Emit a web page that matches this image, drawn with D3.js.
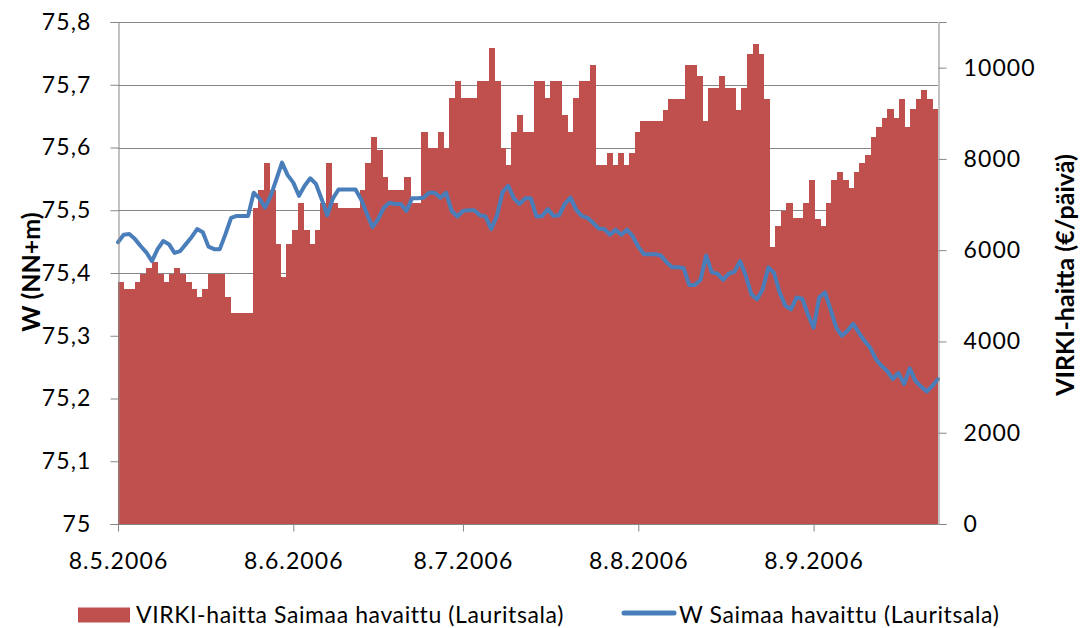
<!DOCTYPE html>
<html>
<head>
<meta charset="utf-8">
<script src="https://cdn.jsdelivr.net/npm/d3@7"></script>
<style>
  body { margin: 0; background: #fff; }
  text { font-family: Lato, 'Open Sans', sans-serif; fill: #000; }
  .axis path, .axis line { stroke: #868686; }
  .axis text { letter-spacing: 1.1px; }
  .legend text { letter-spacing: 0.6px; }
  .title { font-weight: bold; }
</style>
</head>
<body>
<div id="chart"></div>
<script>
// Daily categories 8.5.2006 - 30.9.2006
const dates = d3.timeDay.range(new Date(2006, 4, 8), new Date(2006, 9, 1))

// VIRKI-haitta (€/päivä), one value per day
const haitta = [
  5310, 5160, 5160, 5310, 5470, 5620, 5750, 5470, 5310, 5470,
  5620, 5470, 5310, 5160, 4980, 5160, 5470, 5470, 5470, 4980,
  4630, 4630, 4630, 4630, 6930, 7320, 7910, 7320, 6130, 5420,
  6130, 6440, 7030, 6440, 6130, 6440, 7030, 7910, 7030, 6930,
  6930, 6930, 6930, 7320, 7910, 8490, 8200, 7610, 7320, 7320,
  7320, 7610, 7030, 7030, 8600, 8240, 8240, 8600, 8240, 9330,
  9700, 9330, 9330, 9330, 9700, 9700, 10430, 9700, 8240, 7870,
  8600, 8970, 8600, 8600, 9700, 9700, 9330, 9700, 9700, 8970,
  8600, 9330, 9700, 9700, 10050, 7860, 7860, 8130, 7860, 8130,
  7860, 8130, 8600, 8840, 8840, 8840, 8840, 9080, 9320, 9320,
  9320, 10050, 10050, 9810, 8840, 9550, 9550, 9810, 9550, 9550,
  9080, 9550, 10290, 10520, 10290, 9320, 6080, 6540, 6850, 7030,
  6700, 6700, 7030, 7530, 6680, 6540, 7030, 7530, 7710, 7530,
  7360, 7710, 7910, 8090, 8490, 8690, 8900, 9100, 8900, 9310,
  8690, 9100, 9310, 9520, 9310, 9100
]

// W Saimaa (NN+m), one value per day
const level = [
  75.449, 75.461, 75.462, 75.454, 75.443, 75.433, 75.419, 75.438, 75.451, 75.446,
  75.432, 75.435, 75.446, 75.457, 75.470, 75.465, 75.442, 75.438, 75.438, 75.462,
  75.488, 75.491, 75.491, 75.491, 75.528, 75.519, 75.504, 75.523, 75.549, 75.576,
  75.556, 75.544, 75.523, 75.539, 75.551, 75.542, 75.518, 75.492, 75.519, 75.533,
  75.533, 75.533, 75.533, 75.517, 75.495, 75.473, 75.486, 75.504, 75.512, 75.510,
  75.510, 75.499, 75.519, 75.519, 75.520, 75.528, 75.528, 75.520, 75.528, 75.499,
  75.490, 75.499, 75.500, 75.500, 75.492, 75.490, 75.470, 75.491, 75.529, 75.539,
  75.519, 75.510, 75.519, 75.519, 75.490, 75.491, 75.502, 75.491, 75.492, 75.510,
  75.520, 75.501, 75.491, 75.488, 75.480, 75.471, 75.470, 75.461, 75.469, 75.461,
  75.469, 75.459, 75.442, 75.430, 75.430, 75.430, 75.428, 75.417, 75.409, 75.409,
  75.408, 75.381, 75.381, 75.389, 75.428, 75.401, 75.399, 75.389, 75.399, 75.402,
  75.419, 75.396, 75.366, 75.358, 75.374, 75.409, 75.400, 75.369, 75.348, 75.342,
  75.361, 75.359, 75.334, 75.313, 75.361, 75.369, 75.342, 75.313, 75.300, 75.308,
  75.319, 75.305, 75.292, 75.281, 75.263, 75.252, 75.244, 75.231, 75.241, 75.223,
  75.248, 75.228, 75.219, 75.211, 75.220, 75.231
]

// Axis ticks
const leftTicks = [75, 75.1, 75.2, 75.3, 75.4, 75.5, 75.6, 75.7, 75.8]
const rightTicks = [0, 2000, 4000, 6000, 8000, 10000]
const dateTicks = [new Date(2006, 4, 8), new Date(2006, 5, 8), new Date(2006, 6, 8), new Date(2006, 7, 8), new Date(2006, 8, 8)]
const dateLabels = ['8.5.2006', '8.6.2006', '8.7.2006', '8.8.2006', '8.9.2006']

const legendNames = ['VIRKI-haitta Saimaa havaittu (Lauritsala)', 'W Saimaa havaittu (Lauritsala)']

const width = 1085
const height = 628
const plot = { left: 118, right: 938, top: 22, bottom: 524 }

const svg = d3.select('#chart')
  .append('svg')
  .attr('width', width)
  .attr('height', height)

// Scales
const xTime = d3.scaleTime()
  .domain([dates[0], dates[dates.length - 1]])
  .range([plot.left, plot.right])

const xBand = d3.scaleBand()
  .domain(dates.map(d => +d))
  .range([plot.left, plot.right])
  .padding(0)

const yLeft = d3.scaleLinear()
  .domain([75, 75.8])
  .range([plot.bottom, plot.top])

const yRight = d3.scaleLinear()
  .domain([0, 11000])
  .range([plot.bottom, plot.top])

// Gridlines (behind bars)
svg.append('g')
  .selectAll('line')
  .data(leftTicks)
  .enter()
  .append('line')
  .attr('x1', plot.left)
  .attr('x2', plot.right)
  .attr('y1', d => Math.round(yLeft(d)) + 0.5)
  .attr('y2', d => Math.round(yLeft(d)) + 0.5)
  .attr('stroke', '#868686')
  .attr('stroke-width', 1)

// Bars
svg.append('g')
  .attr('shape-rendering', 'crispEdges')
  .selectAll('rect')
  .data(haitta)
  .enter()
  .append('rect')
  .attr('x', (d, i) => xBand(+dates[i]))
  .attr('width', (d, i) => i === haitta.length - 1 ? xBand.bandwidth() : xBand.bandwidth() + 0.6)
  .attr('y', d => yRight(d))
  .attr('height', d => plot.bottom - yRight(d))
  .attr('fill', '#C0504D')

// Line
const line = d3.line()
  .x((d, i) => xTime(dates[i]))
  .y(d => yLeft(d))

svg.append('path')
  .datum(level)
  .attr('d', line)
  .attr('fill', 'none')
  .attr('stroke', '#4A7EBB')
  .attr('stroke-width', 4)
  .attr('stroke-linejoin', 'round')
  .attr('stroke-linecap', 'round')

// Axes
const fmtLeft = d => d === 75 ? '75' : d3.format('.1f')(d).replace('.', ',')

const axisLeft = svg.append('g')
  .attr('class', 'axis')
  .attr('transform', `translate(${plot.left + 0.5}, 0)`)
  .call(d3.axisLeft(yLeft).tickValues(leftTicks).tickFormat(fmtLeft).tickSize(8).tickPadding(19))
axisLeft.selectAll('text').style('font-size', '23px')

const axisRight = svg.append('g')
  .attr('class', 'axis')
  .attr('transform', `translate(${plot.right + 0.5}, 0)`)
  .call(d3.axisRight(yRight).tickValues(rightTicks).tickFormat(d3.format('d')).tickSize(8).tickPadding(17))
axisRight.selectAll('text').style('font-size', '23px')

const axisBottom = svg.append('g')
  .attr('class', 'axis')
  .attr('transform', `translate(0, ${plot.bottom + 0.5})`)
  .call(d3.axisBottom(xTime).tickValues(dateTicks).tickFormat((d, i) => dateLabels[i]).tickSize(7).tickPadding(21))
axisBottom.selectAll('text').style('font-size', '23px')
axisBottom.select('.domain').attr('d', `M${plot.left},0H${plot.right}`)

// Axis titles
svg.append('text')
  .attr('class', 'title')
  .attr('transform', `translate(40, 272) rotate(-90)`)
  .attr('text-anchor', 'middle')
  .style('font-size', '25px')
  .text('W (NN+m)')

svg.append('text')
  .attr('class', 'title')
  .attr('transform', `translate(1074, 275) rotate(-90)`)
  .attr('text-anchor', 'middle')
  .style('font-size', '25px')
  .text('VIRKI-haitta (€/päivä)')

// Legend
const legend = svg.append('g')
  .attr('class', 'legend')
  .attr('transform', 'translate(0, 615)')

legend.append('rect')
  .attr('x', 78)
  .attr('y', -7.5)
  .attr('width', 52)
  .attr('height', 15)
  .attr('fill', '#C0504D')

legend.append('text')
  .attr('x', 136)
  .attr('y', 0)
  .attr('dy', '0.35em')
  .style('font-size', '23px')
  .text(legendNames[0])

legend.append('line')
  .attr('x1', 624)
  .attr('x2', 674)
  .attr('y1', -2)
  .attr('y2', -2)
  .attr('stroke', '#4A7EBB')
  .attr('stroke-width', 5)
  .attr('stroke-linecap', 'round')

legend.append('text')
  .attr('x', 679)
  .attr('y', 0)
  .attr('dy', '0.35em')
  .style('font-size', '23px')
  .text(legendNames[1])
</script>
</body>
</html>
